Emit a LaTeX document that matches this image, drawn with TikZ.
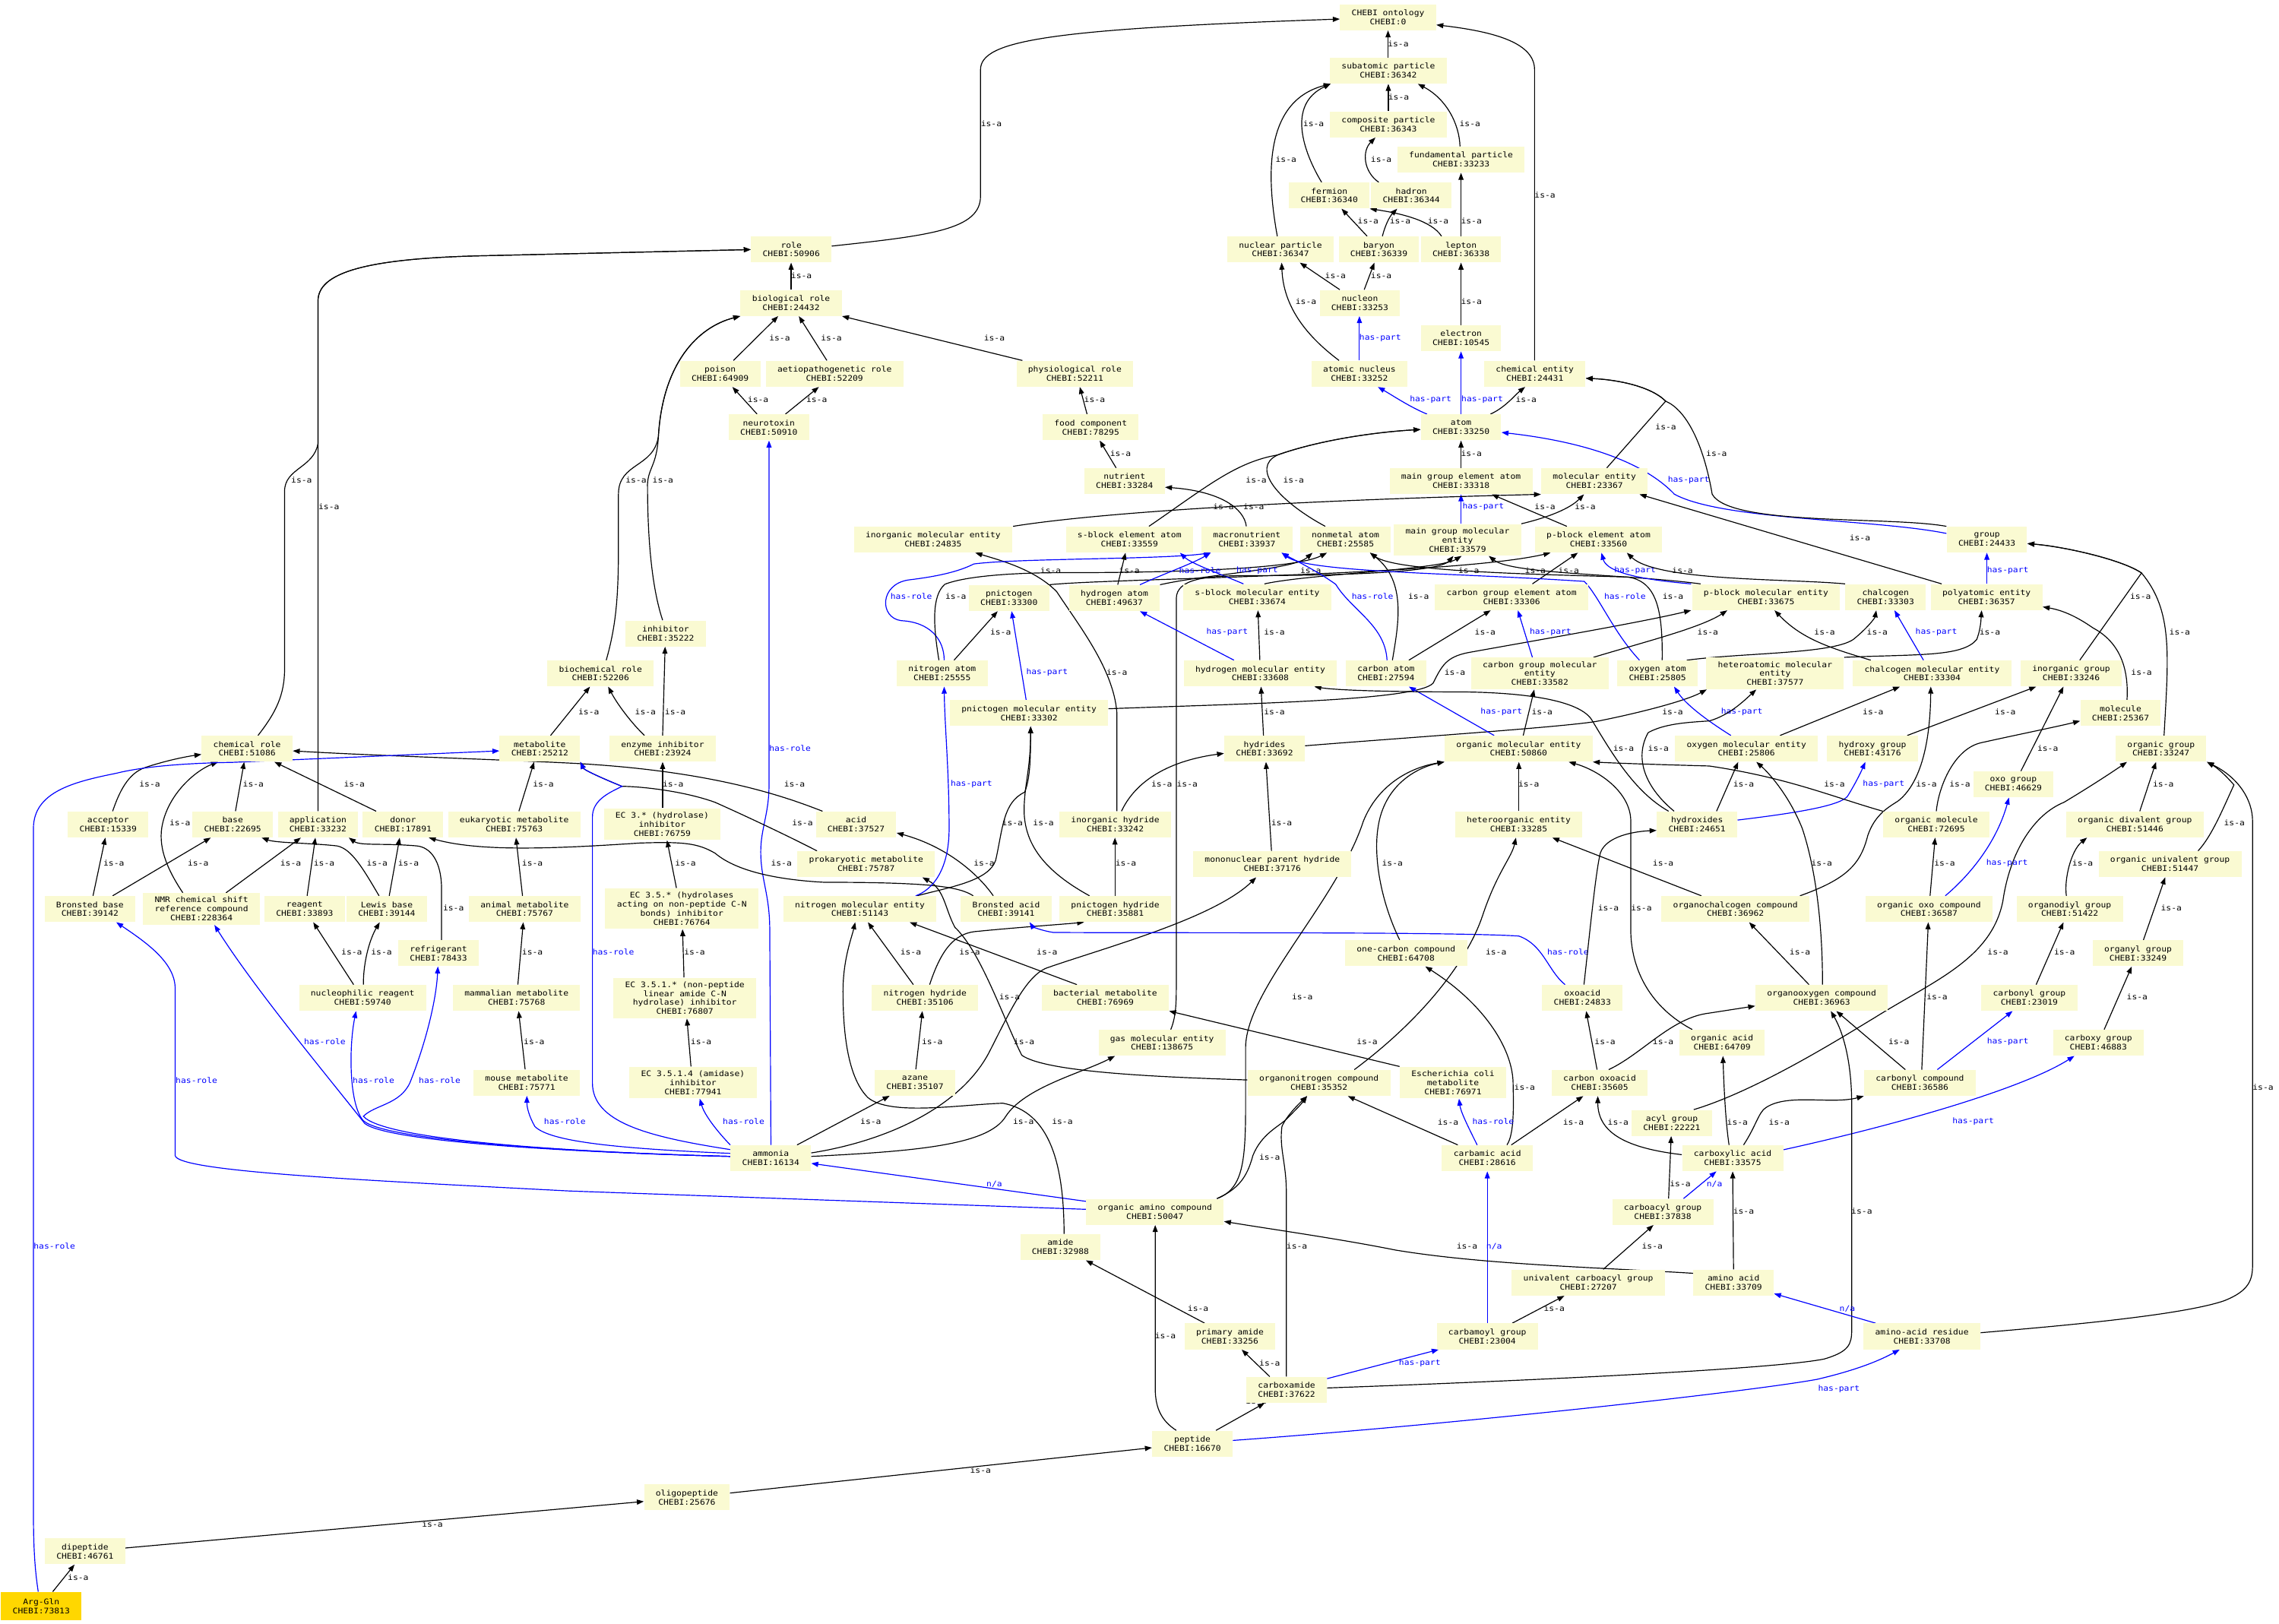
\documentclass[tikz,border=0pt]{standalone}
\usepackage{fontspec}
\newfontfamily\gvf{DejaVu Sans Mono}[FakeStretch=1.12]
\usetikzlibrary{arrows.meta}
\pgfdeclarelayer{bglayer}
\pgfdeclarelayer{edgelayer}
\pgfsetlayers{bglayer,edgelayer,main}
\definecolor{nfill}{RGB}{250,250,210}
\definecolor{gfill}{RGB}{255,215,0}
\tikzset{
  nd/.style={fill=nfill, draw=none, font=\gvf\fontsize{5.3}{6.2}\selectfont, align=center, minimum width=51.3pt, minimum height=17.8pt, inner xsep=8pt, inner ysep=2.6pt},
  gd/.style={nd, fill=gfill, minimum height=19.5pt},
  isa/.style={draw=black, line width=0.62pt, -{Triangle[length=4.8pt,width=3.5pt]}},
  hp/.style={isa, draw=blue},
  lb/.style={font=\gvf\fontsize{5.3}{6.2}\selectfont, inner sep=0pt, text=black},
  lbb/.style={lb, text=blue}
}
\begin{document}
\begin{tikzpicture}[x=1pt,y=-1pt]
\begin{pgfonlayer}{bglayer}
\fill[white] (0,0) rectangle (1568,1117);
\end{pgfonlayer}
\useasboundingbox (0,0) rectangle (1568,1117);
% ---------------- nodes
\node[nd] (ont) at (955,11.8) {CHEBI ontology\\CHEBI:0};
\node[nd] (subat) at (955.2,48.6) {subatomic particle\\CHEBI:36342};
\node[nd] (compp) at (955.2,85.5) {composite particle\\CHEBI:36343};
\node[nd] (fundp) at (1005.2,109.8) {fundamental particle\\CHEBI:33233};
\node[nd] (fermion) at (914.6,134.5) {fermion\\CHEBI:36340};
\node[nd] (hadron) at (971,134.5) {hadron\\CHEBI:36344};
\node[nd] (nucp) at (881,171.6) {nuclear particle\\CHEBI:36347};
\node[nd] (baryon) at (948.7,171.6) {baryon\\CHEBI:36339};
\node[nd] (lepton) at (1005.2,171.6) {lepton\\CHEBI:36338};
\node[nd] (nucleon) at (935.6,208.4) {nucleon\\CHEBI:33253};
\node[nd] (electron) at (1005.2,232.7) {electron\\CHEBI:10545};
\node[nd] (atnuc) at (935.3,257.1) {atomic nucleus\\CHEBI:33252};
\node[nd] (chement) at (1056,257.1) {chemical entity\\CHEBI:24431};
\node[nd] (atom) at (1005.2,294) {atom\\CHEBI:33250};
\node[nd] (role) at (544.4,171.6) {role\\CHEBI:50906};
\node[nd] (biorole) at (544.3,208.4) {biological role\\CHEBI:24432};
\node[nd] (poison) at (495.5,257.1) {poison\\CHEBI:64909};
\node[nd] (aetio) at (574.2,257.1) {aetiopathogenetic role\\CHEBI:52209};
\node[nd] (physio) at (739.5,257.1) {physiological role\\CHEBI:52211};
\node[nd] (neurotox) at (529,294) {neurotoxin\\CHEBI:50910};
\node[nd] (food) at (750.4,294) {food component\\CHEBI:78295};
\node[nd] (nutrient) at (773.7,331) {nutrient\\CHEBI:33284};
\node[nd] (mgea) at (1005.2,331) {main group element atom\\CHEBI:33318};
\node[nd] (molent) at (1097,331) {molecular entity\\CHEBI:23367};
\node[nd] (inorgme) at (642,371.2) {inorganic molecular entity\\CHEBI:24835};
\node[nd] (sblockatom) at (777.1,371.2) {s-block element atom\\CHEBI:33559};
\node[nd] (macro) at (857.9,371.2) {macronutrient\\CHEBI:33937};
\node[nd] (nonmetal) at (925.7,371.2) {nonmetal atom\\CHEBI:25585};
\node[nd] (mgme) at (1002.8,371.4) {main group molecular\\entity\\CHEBI:33579};
\node[nd] (pblockatom) at (1099.8,371.2) {p-block element atom\\CHEBI:33560};
\node[nd] (group) at (1367,371.2) {group\\CHEBI:24433};
\node[nd] (pnictogen) at (694.2,411.4) {pnictogen\\CHEBI:33300};
\node[nd] (hatom) at (766.7,411.4) {hydrogen atom\\CHEBI:49637};
\node[nd] (sblockme) at (865,410.8) {s-block molecular entity\\CHEBI:33674};
\node[nd] (cgea) at (1040,410.8) {carbon group element atom\\CHEBI:33306};
\node[nd] (pblockme) at (1215,410.8) {p-block molecular entity\\CHEBI:33675};
\node[nd] (chalcogen) at (1297.3,410.8) {chalcogen\\CHEBI:33303};
\node[nd] (polyat) at (1366.8,410.8) {polyatomic entity\\CHEBI:36357};
\node[nd] (inhibitor) at (458,435.8) {inhibitor\\CHEBI:35222};
\node[nd] (natom) at (648.2,463.3) {nitrogen atom\\CHEBI:25555};
\node[nd] (hme) at (867.1,463.3) {hydrogen molecular entity\\CHEBI:33608};
\node[nd] (catom) at (953.6,463.3) {carbon atom\\CHEBI:27594};
\node[nd] (cgme) at (1059.4,463.3) {carbon group molecular\\entity\\CHEBI:33582};
\node[nd] (oatom) at (1140.4,463.3) {oxygen atom\\CHEBI:25805};
\node[nd] (heteroat) at (1221.3,463.3) {heteroatomic molecular\\entity\\CHEBI:37577};
\node[nd] (chalcme) at (1329.3,463.3) {chalcogen molecular entity\\CHEBI:33304};
\node[nd] (inorggroup) at (1425,463.3) {inorganic group\\CHEBI:33246};
\node[nd] (biochem) at (413.2,463.3) {biochemical role\\CHEBI:52206};
\node[nd] (pnme) at (708,490.6) {pnictogen molecular entity\\CHEBI:33302};
\node[nd] (molecule) at (1459,490.6) {molecule\\CHEBI:25367};
\node[nd] (chemrole) at (170,515.1) {chemical role\\CHEBI:51086};
\node[nd] (metabolite) at (371.4,515.1) {metabolite\\CHEBI:25212};
\node[nd] (enzinh) at (455.9,515.1) {enzyme inhibitor\\CHEBI:23924};
\node[nd] (hydrides) at (870,515.1) {hydrides\\CHEBI:33692};
\node[nd] (orgme) at (1044.8,515.1) {organic molecular entity\\CHEBI:50860};
\node[nd] (ome) at (1201.6,515.1) {oxygen molecular entity\\CHEBI:25806};
\node[nd] (hydroxy) at (1288.3,515.1) {hydroxy group\\CHEBI:43176};
\node[nd] (orggroup) at (1486.8,515.1) {organic group\\CHEBI:33247};
\node[nd] (oxo) at (1385.2,539.6) {oxo group\\CHEBI:46629};
\node[nd] (acceptor) at (74.4,567.2) {acceptor\\CHEBI:15339};
\node[nd] (base) at (160.1,567.2) {base\\CHEBI:22695};
\node[nd] (application) at (218.8,567.2) {application\\CHEBI:33232};
\node[nd] (donor) at (277.3,567.2) {donor\\CHEBI:17891};
\node[nd] (eukmet) at (353.8,567.2) {eukaryotic metabolite\\CHEBI:75763};
\node[nd] (ec3) at (455.6,567) {EC 3.* (hydrolase)\\inhibitor\\CHEBI:76759};
\node[nd] (acid) at (589,567.2) {acid\\CHEBI:37527};
\node[nd] (inorghyd) at (767.3,567.2) {inorganic hydride\\CHEBI:33242};
\node[nd] (heteroorg) at (1044.9,567.2) {heteroorganic entity\\CHEBI:33285};
\node[nd] (hydroxides) at (1167.6,567.2) {hydroxides\\CHEBI:24651};
\node[nd] (orgmolecule) at (1332.2,567.2) {organic molecule\\CHEBI:72695};
\node[nd] (orgdiv) at (1468.8,567.2) {organic divalent group\\CHEBI:51446};
\node[nd] (prokmet) at (595.9,594.5) {prokaryotic metabolite\\CHEBI:75787};
\node[nd] (mph) at (875.4,594.5) {mononuclear parent hydride\\CHEBI:37176};
\node[nd] (orguni) at (1493,594.5) {organic univalent group\\CHEBI:51447};
\node[nd] (brbase) at (61.9,625.4) {Bronsted base\\CHEBI:39142};
\node[nd] (nmr) at (138.6,625.3) {NMR chemical shift\\reference compound\\CHEBI:228364};
\node[nd] (reagent) at (209.6,625.4) {reagent\\CHEBI:33893};
\node[nd] (lewis) at (266.1,625.4) {Lewis base\\CHEBI:39144};
\node[nd] (animet) at (361,625.4) {animal metabolite\\CHEBI:75767};
\node[nd] (ec35) at (469.1,625.1) {EC 3.5.* (hydrolases\\acting on non-peptide C-N\\bonds) inhibitor\\CHEBI:76764};
\node[nd] (nme) at (591.6,625.4) {nitrogen molecular entity\\CHEBI:51143};
\node[nd] (bracid) at (692.2,625.4) {Bronsted acid\\CHEBI:39141};
\node[nd] (pnhyd) at (767.3,625.4) {pnictogen hydride\\CHEBI:35881};
\node[nd] (orgchalc) at (1194,625.4) {organochalcogen compound\\CHEBI:36962};
\node[nd] (orgoxo) at (1327.2,625.4) {organic oxo compound\\CHEBI:36587};
\node[nd] (orgdiyl) at (1424,625.4) {organodiyl group\\CHEBI:51422};
\node[nd] (refrig) at (301.7,655.8) {refrigerant\\CHEBI:78433};
\node[nd] (onec) at (967.4,655.8) {one-carbon compound\\CHEBI:64708};
\node[nd] (organyl) at (1471,655.8) {organyl group\\CHEBI:33249};
\node[nd] (nucreag) at (249.5,686.5) {nucleophilic reagent\\CHEBI:59740};
\node[nd] (mammet) at (355.4,686.5) {mammalian metabolite\\CHEBI:75768};
\node[nd] (ec351) at (471.2,686.6) {EC 3.5.1.* (non-peptide\\linear amide C-N\\hydrolase) inhibitor\\CHEBI:76807};
\node[nd] (nhyd) at (636.4,686.5) {nitrogen hydride\\CHEBI:35106};
\node[nd] (bactmet) at (760.4,686.5) {bacterial metabolite\\CHEBI:76969};
\node[nd] (oxoacid) at (1088.7,686.5) {oxoacid\\CHEBI:24833};
\node[nd] (orgoxy) at (1253.3,686.5) {organooxygen compound\\CHEBI:36963};
\node[nd] (carbonylg) at (1396.2,686.5) {carbonyl group\\CHEBI:23019};
\node[nd] (gasme) at (799.5,717.4) {gas molecular entity\\CHEBI:138675};
\node[nd] (orgacid) at (1184.8,717.4) {organic acid\\CHEBI:64709};
\node[nd] (carboxyg) at (1443.7,717.4) {carboxy group\\CHEBI:46883};
\node[nd] (mousemet) at (362.4,744.8) {mouse metabolite\\CHEBI:75771};
\node[nd] (ec3514) at (476.8,744.8) {EC 3.5.1.4 (amidase)\\inhibitor\\CHEBI:77941};
\node[nd] (azane) at (629.5,744.8) {azane\\CHEBI:35107};
\node[nd] (orgn) at (907.5,745) {organonitrogen compound\\CHEBI:35352};
\node[nd] (ecoli) at (999.7,744.8) {Escherichia coli\\metabolite\\CHEBI:76971};
\node[nd] (coxoacid) at (1100.6,745) {carbon oxoacid\\CHEBI:35605};
\node[nd] (carbonylc) at (1320.9,745) {carbonyl compound\\CHEBI:36586};
\node[nd] (acyl) at (1150.2,772.5) {acyl group\\CHEBI:22221};
\node[nd] (ammonia) at (530.3,796.8) {ammonia\\CHEBI:16134};
\node[nd] (carbamic) at (1023.3,796.8) {carbamic acid\\CHEBI:28616};
\node[nd] (carboxylic) at (1192.1,796.8) {carboxylic acid\\CHEBI:33575};
\node[nd] (orgamino) at (794.6,833.7) {organic amino compound\\CHEBI:50047};
\node[nd] (carboacyl) at (1144,833.7) {carboacyl group\\CHEBI:37838};
\node[nd] (amide) at (729.6,858) {amide\\CHEBI:32988};
\node[nd] (univcarb) at (1092.8,882.4) {univalent carboacyl group\\CHEBI:27207};
\node[nd] (aminoacid) at (1192.7,882.4) {amino acid\\CHEBI:33709};
\node[nd] (primamide) at (846.2,919.4) {primary amide\\CHEBI:33256};
\node[nd] (carbamoyl) at (1023.3,919.4) {carbamoyl group\\CHEBI:23004};
\node[nd] (aares) at (1322.3,919.4) {amino-acid residue\\CHEBI:33708};
\node[nd] (carboxamide) at (885.2,956.2) {carboxamide\\CHEBI:37622};
\node[nd] (peptide) at (820.4,993.2) {peptide\\CHEBI:16670};
\node[nd] (oligo) at (472.6,1030.2) {oligopeptide\\CHEBI:25676};
\node[nd] (dipeptide) at (58.5,1067.3) {dipeptide\\CHEBI:46761};
\node[gd] (argGln) at (28.4,1105) {Arg-Gln\\CHEBI:73813};
% ---------------- edges
\begin{pgfonlayer}{edgelayer}
% particles
\draw[isa] (subat.north -| 955,0) -- (ont.south -| 955,0) node[lb] at (962,30) {is-a};
\draw[isa] (chement.north -| 1055.8,0) -- (1055.8,48) .. controls (1055.8,30) and (1030,22) .. (ont.east |- 0,17.1) node[lb] at (1063,134) {is-a};
\draw[isa] (role.east |- 0,169.3) .. controls (640,162) and (674.6,158) .. (674.6,135) -- (674.6,48) .. controls (674.6,28) and (720,20) .. (ont.west |- 0,13.1) node[lb] at (682,85) {is-a};
\draw[isa] (compp.north -| 955.2,0) -- (subat.south -| 955.2,0) node[lb] at (962.3,66.6) {is-a};
\draw[isa] (fundp.north -| 1004.5,0) .. controls (1004,85) and (995,68) .. (subat.south -| 975.5,0) node[lb] at (1011.3,85.1) {is-a};
\draw[isa] (fermion.north -| 909.3,0) .. controls (897,105) and (885,72) .. (subat.south -| 915.5,0) node[lb] at (903.8,85.1) {is-a};
\draw[isa] (nucp.north -| 878.8,0) .. controls (872,125) and (868,70) .. (subat.south -| 915.5,0) node[lb] at (884.8,109.4) {is-a};
\draw[isa] (hadron.north -| 948.6,0) .. controls (938,118) and (937,104) .. (compp.south -| 946.3,0) node[lb] at (950.3,109.4) {is-a};
\draw[isa] (lepton.north -| 1005.2,0) -- (fundp.south -| 1005.2,0) node[lb] at (1012.3,152.2) {is-a};
\draw[isa] (baryon.north -| 940.6,0) -- (fermion.south -| 923,0) node[lb] at (941.3,152.2) {is-a};
\draw[isa] (baryon.north -| 951.1,0) .. controls (953,155) and (956,149) .. (hadron.south -| 961.3,0) node[lb] at (963.3,152.2) {is-a};
\draw[isa] (lepton.north -| 991.8,0) .. controls (985,152) and (965,147) .. (fermion.south east) node[lb] at (989.5,152.2) {is-a};
\draw[isa] (nucleon.north -| 921.8,0) -- (nucp.south -| 894.3,0) node[lb] at (918.8,189.5) {is-a};
\draw[isa] (nucleon.north -| 938.6,0) -- (baryon.south -| 945.6,0) node[lb] at (950.3,189.5) {is-a};
\draw[isa] (atnuc.north -| 921.3,0) .. controls (900,232) and (883,212) .. (nucp.south -| 881.8,0) node[lb] at (898.5,207.6) {is-a};
\draw[hp] (atnuc.north -| 935.3,0) -- (nucleon.south -| 935.3,0) node[lbb] at (949.6,232.3) {has-part};
\draw[isa] (electron.north -| 1005.2,0) -- (lepton.south -| 1005.2,0) node[lb] at (1012.3,207.6) {is-a};
\draw[hp] (atom.north -| 981.8,0) .. controls (970,280) and (958,272) .. (atnuc.south -| 948,0) node[lbb] at (984.3,275.1) {has-part};
\draw[hp] (atom.north -| 1005.2,0) -- (electron.south -| 1005.2,0) node[lbb] at (1019.8,275.1) {has-part};
\draw[isa] (atom.north -| 1025.5,0) .. controls (1036,280) and (1042,272) .. (chement.south -| 1049.3,0) node[lb] at (1050,275.1) {is-a};
\draw[isa] (mgea.north -| 1005.2,0) -- (atom.south -| 1005.2,0) node[lb] at (1012.3,312.2) {is-a};
\draw[hp] (group.west |- 0,367) .. controls (1290,357) and (1185,358) .. (1152,340) .. controls (1135,322) and (1100,305) .. (atom.east |- 0,297.5) node[lbb] at (1161.8,330.5) {has-part};
\draw[isa] (molent.north -| 1105.5,0) -- (1146,276) .. controls (1135,265) and (1110,261) .. (chement.east |- 0,260.3) node[lb] at (1146.1,293.6) {is-a};
\draw[isa] (group.north west) .. controls (1300,355) and (1190,362) .. (1178,340) .. controls (1172,305) and (1160,282) .. (1146,276) .. controls (1135,265) and (1110,261) .. (chement.east |- 0,260.3) node[lb] at (1181,312.2) {is-a};
\draw[isa] (mgme.north east) .. controls (1065,356) and (1080,350) .. (molent.south -| 1089.8,0) node[lb] at (1090.6,348.8) {is-a};
\draw[isa] (pblockatom.north -| 1078,0) -- (mgea.south -| 1026.3,0) node[lb] at (1063,348.8) {is-a};
\draw[hp] (mgme.north -| 1005.2,0) -- (mgea.south -| 1005.2,0) node[lbb] at (1020.5,348.8) {has-part};
\draw[isa] (inorgme.north -| 697,0) .. controls (760,352) and (900,344) .. (molent.south west) node[lb] at (841.8,348.8) {is-a};
\draw[isa] (macro.north -| 857.5,0) .. controls (856,350) and (840,338) .. (nutrient.east |- 0,335.2) node[lb] at (862.6,348.8) {is-a};
\draw[isa] (sblockatom.north -| 790.5,0) .. controls (830,335) and (850,318) .. (879,313) .. controls (910,302) and (950,297) .. (atom.west |- 0,295.5) node[lb] at (864.3,330.5) {is-a};
\draw[isa] (nonmetal.north -| 911.8,0) .. controls (880,345) and (860,322) .. (879,313) .. controls (910,302) and (950,297) .. (atom.west |- 0,295.5) node[lb] at (890,330.5) {is-a};
% roles
\draw[isa] (biorole.north -| 544.3,0) -- (role.south -| 544.3,0) node[lb] at (551.4,189.5) {is-a};
\draw[isa] (poison.north -| 504.6,0) -- (biorole.south -| 535.4,0) node[lb] at (536.4,232.3) {is-a};
\draw[isa] (aetio.north -| 568.9,0) -- (biorole.south -| 549.6,0) node[lb] at (572,232.3) {is-a};
\draw[isa] (physio.north -| 703.4,0) -- (biorole.south east) node[lb] at (684.1,232.3) {is-a};
\draw[isa] (neurotox.north -| 520.9,0) -- (poison.south -| 503.9,0) node[lb] at (521.6,275.1) {is-a};
\draw[isa] (neurotox.north -| 540.4,0) -- (aetio.south -| 563.4,0) node[lb] at (561.9,275.1) {is-a};
\draw[isa] (food.north -| 747.9,0) -- (physio.south -| 742.9,0) node[lb] at (753.1,275.1) {is-a};
\draw[isa] (nutrient.north -| 767.9,0) -- (food.south -| 756.6,0) node[lb] at (770.9,312.2) {is-a};
\draw[hp] (ammonia.north -| 530.4,0) -- (529.6,640) .. controls (529.6,615) and (523.4,605) .. (523.4,586) .. controls (523.4,570) and (529.1,560) .. (529.1,540) -- (neurotox.south -| 529.1,0) node[lbb] at (543.6,514.7) {has-role};
\draw[isa] (inhibitor.north -| 455.9,0) .. controls (447,400) and (445.5,360) .. (445.5,333) .. controls (446,322) and (452,320) .. (453,300) .. controls (456,250) and (480,225) .. (biorole.south west) node[lb] at (456.1,330.5) {is-a};
\draw[isa] (biochem.north -| 417.1,0) .. controls (424,430) and (425.5,410) .. (425.5,375) -- (425.5,340) .. controls (425.5,318) and (450,322) .. (453,300) .. controls (456,250) and (480,225) .. (biorole.south west) node[lb] at (437.6,330.5) {is-a};
\draw[isa] (chemrole.north -| 177.5,0) .. controls (190,490) and (195.8,478) .. (195.8,460) -- (195.8,338) .. controls (195.8,322) and (216,322) .. (218.8,305) -- (218.8,207) .. controls (218.8,188) and (250,178) .. (330,176) -- (role.west |- 0,171.7) node[lb] at (207.5,330.5) {is-a};
\draw[isa] (application.north -| 218.8,0) -- (218.8,207) .. controls (218.8,188) and (250,178) .. (330,176) -- (role.west |- 0,171.7) node[lb] at (226.3,348.8) {is-a};
\draw[isa] (metabolite.north -| 378.8,0) -- (biochem.south -| 405.9,0) node[lb] at (405.1,489.8) {is-a};
\draw[isa] (enzinh.north -| 443.4,0) .. controls (435,498) and (425,485) .. (biochem.south -| 418.4,0) node[lb] at (444.1,489.8) {is-a};
\draw[isa] (enzinh.north -| 455.9,0) -- (inhibitor.south -| 457.6,0) node[lb] at (464.6,489.8) {is-a};
\draw[isa] (ec3.north -| 455.9,0) -- (enzinh.south -| 455.9,0) node[lb] at (463.1,539.2) {is-a};
\draw[isa] (ec35.north -| 465.4,0) -- (ec3.south -| 458.9,0) node[lb] at (471.6,593.9) {is-a};
\draw[isa] (ec351.north -| 470.6,0) -- (ec35.south -| 469.6,0) node[lb] at (477.9,655) {is-a};
\draw[isa] (ec3514.north -| 475.4,0) -- (ec351.south -| 472.6,0) node[lb] at (482.4,716.8) {is-a};
\draw[isa] (acceptor.north -| 77.5,0) .. controls (82,545) and (88,532) .. (100,528) .. controls (112,524) and (125,521) .. (chemrole.west |- 0,519) node[lb] at (103,539.2) {is-a};
\draw[isa] (base.north -| 162,0) -- (chemrole.south -| 168,0) node[lb] at (174.3,539.2) {is-a};
\draw[isa] (donor.north -| 258.8,0) -- (chemrole.south -| 188.8,0) node[lb] at (243.8,539.2) {is-a};
\draw[isa] (nmr.north -| 125.8,0) .. controls (115,598) and (108,582) .. (112,566) .. controls (117,545) and (135,530) .. (chemrole.south -| 150,0) node[lb] at (123.8,566.1) {is-a};
\draw[isa] (acid.north -| 565.9,0) .. controls (540,548) and (490,530) .. (392,525) .. controls (330,522) and (260,520) .. (chemrole.east |- 0,516.6) node[lb] at (546.6,539.2) {is-a};
\draw[hp] (argGln.north -| 26.3,0) .. controls (24,1080) and (23,1065) .. (23,1040) -- (23,570) .. controls (23,545) and (50,538) .. (80,532) .. controls (100,527) and (130,525) .. (160,524.5) -- (metabolite.west |- 0,516.6) node[lbb] at (37.5,857.4) {has-role};
\draw[isa] (eukmet.north -| 357,0) -- (metabolite.south -| 367.5,0) node[lb] at (373.8,539.2) {is-a};
\draw[isa] (prokmet.north -| 562.1,0) .. controls (540,574) and (510,560) .. (492,552) .. controls (470,544) and (440,541) .. (428,541) .. controls (418,537) and (402,530) .. (metabolite.south east) node[lb] at (552.1,566.1) {is-a};
\draw[hp] (ammonia.west |- 0,790.9) .. controls (445,782) and (407.6,772) .. (407.6,745) -- (407.6,562) .. controls (407.6,550) and (420,545) .. (428,541) .. controls (418,537) and (402,530) .. (metabolite.south east) node[lbb] at (422,655) {has-role};
\draw[isa] (brbase.north -| 64,0) -- (acceptor.south -| 72.5,0) node[lb] at (78.3,593.9) {is-a};
\draw[isa] (brbase.north -| 77.5,0) -- (base.south -| 145,0) node[lb] at (136.3,593.9) {is-a};
\draw[isa] (nmr.north -| 155.5,0) -- (application.south -| 207,0) node[lb] at (200,593.9) {is-a};
\draw[isa] (reagent.north -| 211.3,0) -- (application.south -| 217,0) node[lb] at (223,593.9) {is-a};
\draw[isa] (lewis.north -| 260.8,0) .. controls (250,598) and (242,584) .. (232,582) .. controls (215,580) and (190,580) .. (base.south -| 180,0) node[lb] at (259.5,593.9) {is-a};
\draw[isa] (lewis.north -| 267.8,0) -- (donor.south -| 275,0) node[lb] at (281,593.9) {is-a};
\draw[isa] (refrig.north -| 303.8,0) -- (303.8,612) .. controls (303.8,592) and (296,583) .. (287,582) .. controls (265,580) and (248,582) .. (application.south -| 240,0) node[lb] at (312,624.8) {is-a};
\draw[isa] (animet.north -| 359.5,0) -- (eukmet.south -| 355,0) node[lb] at (366.3,593.9) {is-a};
\draw[isa] (mammet.north -| 356.3,0) -- (animet.south -| 360,0) node[lb] at (366.3,655) {is-a};
\draw[isa] (mousemet.north -| 361.3,0) -- (mammet.south -| 356.8,0) node[lb] at (367.5,716.8) {is-a};
\draw[isa] (nucreag.north -| 243.3,0) -- (reagent.south -| 215.5,0) node[lb] at (242,655) {is-a};
\draw[isa] (nucreag.north -| 250,0) .. controls (250,660) and (255,645) .. (lewis.south -| 261.3,0) node[lb] at (262.5,655) {is-a};
% ammonia roles
\draw[hp] (ammonia.west |- 0,795.6) .. controls (400,793) and (268,786) .. (251,773) .. controls (225,740) and (175,680) .. (nmr.south -| 147.5,0) node[lbb] at (223.5,716.8) {has-role};
\draw[hp] (ammonia.west |- 0,795.6) .. controls (400,793) and (265,785) .. (250,771) .. controls (240,760) and (240,720) .. (nucreag.south -| 245,0) node[lbb] at (257,743.2) {has-role};
\draw[hp] (ammonia.west |- 0,795.6) .. controls (400,793) and (265,785) .. (250,768) .. controls (258,760) and (275,760) .. (282,745) .. controls (292,720) and (300,690) .. (refrig.south -| 301.3,0) node[lbb] at (302.5,743.2) {has-role};
\draw[hp] (ammonia.west |- 0,793.5) .. controls (420,790) and (378,785) .. (368,775) .. controls (364,768) and (362.5,762) .. (mousemet.south -| 362.5,0) node[lbb] at (388.6,771.8) {has-role};
\draw[hp] (ammonia.north west) .. controls (495,780) and (485,768) .. (ec3514.south -| 481.4,0) node[lbb] at (511.6,771.8) {has-role};
\draw[hp] (orgamino.west |- 0,832) -- (392,819.4) .. controls (250,812) and (122,806) .. (120.5,795) -- (120.5,680) .. controls (120.5,662) and (100,648) .. (brbase.south -| 80,0) node[lbb] at (135.2,743.2) {has-role};
\draw[hp] (orgamino.west |- 0,826.5) -- (ammonia.east |- 0,800.4) node[lbb] at (684.1,814.6) {n/a};
% nitrogen region
\draw[isa] (ammonia.north -| 548.4,0) -- (azane.south -| 612.1,0) node[lb] at (599.1,771.8) {is-a};
\draw[isa] (ammonia.east |- 0,793.2) .. controls (610,785) and (660,762) .. (680,725) .. controls (693,700) and (705,672) .. (720,666) .. controls (760,652) and (835,632) .. (mph.south -| 864.3,0) node[lb] at (694.6,686) {is-a};
\draw[isa] (ammonia.east |- 0,795.6) .. controls (630,792) and (680,788) .. (692,768) .. controls (705,748) and (745,738) .. (gasme.south -| 767.1,0) node[lb] at (704.1,771.8) {is-a};
\draw[isa] (amide.north -| 732.1,0) .. controls (732,800) and (722,765) .. (690,759) .. controls (660,760) and (612,768) .. (597,755) .. controls (582,740) and (580,705) .. (580,682) .. controls (580,660) and (586,645) .. (nme.south -| 588.4,0) node[lb] at (730.9,771.8) {is-a};
\draw[isa] (nhyd.north -| 628.4,0) -- (nme.south -| 597.1,0) node[lb] at (626.6,655) {is-a};
\draw[isa] (azane.north -| 630.1,0) -- (nhyd.south -| 634.6,0) node[lb] at (641.4,716.8) {is-a};
\draw[isa] (nhyd.north -| 639.6,0) .. controls (648,652) and (657,643) .. (670,641) .. controls (700,638) and (730,636) .. (pnhyd.south -| 745.9,0) node[lb] at (667.1,655) {is-a};
\draw[isa] (bactmet.north -| 740.9,0) -- (nme.south -| 625.9,0) node[lb] at (720.4,655) {is-a};
\draw[isa] (orgn.west |- 0,743) .. controls (800,741) and (720,738) .. (703,726) .. controls (690,700) and (675,655) .. (657,638) .. controls (650,625) and (650,612) .. (prokmet.south -| 634.6,0) node[lb] at (704.6,716.8) {is-a};
\draw[isa] (bracid.north -| 683.4,0) .. controls (672,600) and (650,582) .. (acid.east |- 0,573) node[lb] at (677.1,593.9) {is-a};
\draw[isa] (bracid.north -| 669.6,0) .. controls (660,610) and (640,607) .. (567,607) .. controls (530,605) and (505,598) .. (492,587) .. controls (480,580) and (470,579) .. (440,580) .. controls (380,584) and (330,586) .. (donor.south -| 295,0) node[lb] at (537.6,593.9) {is-a};
\draw[hp] (oxoacid.north -| 1076.8,0) .. controls (1065,668) and (1062,650) .. (1045,644) .. controls (1000,641) and (800,642) .. (724.6,641.5) .. controls (715,640) and (710,637) .. (bracid.south -| 708.4,0) node[lbb] at (1078.8,655) {has-role};
\draw[isa] (nme.north -| 630.9,0) .. controls (655,610) and (680,606) .. (685,592) .. controls (690,570) and (690,552) .. (705,545) .. controls (709,535) and (709,520) .. (pnme.south -| 709.1,0) node[lb] at (696.6,566.1) {is-a};
\draw[isa] (pnhyd.north -| 749.6,0) .. controls (720,600) and (705,582) .. (704.6,558) .. controls (704.6,540) and (709,530) .. (pnme.south -| 709.1,0) node[lb] at (717.9,566.1) {is-a};
\draw[isa] (pnhyd.north -| 767.1,0) -- (inorghyd.south -| 767.1,0) node[lb] at (774.6,593.9) {is-a};
\draw[hp] (nme.north -| 630,0) .. controls (642,612) and (653,598) .. (653,570) .. controls (653,530) and (650,500) .. (natom.south -| 649.6,0) node[lbb] at (668.4,539.2) {has-part};
\draw[hp] (pnme.north -| 706,0) -- (pnictogen.south -| 696,0) node[lbb] at (720.4,462.7) {has-part};
\draw[isa] (pnme.east |- 0,487.6) .. controls (860,484) and (975,482) .. (986,470) .. controls (992,458) and (995,452) .. (1010,449) .. controls (1060,440) and (1130,428) .. (pblockme.south -| 1163.5,0) node[lb] at (1001,462.7) {is-a};
\draw[isa] (inorghyd.north -| 771.6,0) .. controls (780,540) and (800,524) .. (hydrides.west |- 0,518.3) node[lb] at (799.3,539.2) {is-a};
\draw[isa] (inorghyd.north -| 768.4,0) -- (768.4,490) .. controls (766,460) and (742,430) .. (727,407) .. controls (712,392) and (690,386) .. (inorgme.south -| 671,0) node[lb] at (768.4,462.7) {is-a};
% upper element region
\draw[isa] (natom.north -| 656.4,0) -- (pnictogen.south -| 686.4,0) node[lb] at (688.4,435) {is-a};
\draw[hp] (natom.north -| 649.6,0) .. controls (649.6,440) and (640,428) .. (620,427) .. controls (605,425) and (605,402) .. (625,399) .. controls (650,396) and (662,392) .. (670,388) .. controls (700,384) and (800,385) .. (macro.south -| 833,0) node[lbb] at (627,410.4) {has-role};
\draw[isa] (natom.north -| 646,0) .. controls (642,430) and (641,410) .. (650,402) .. controls (665,396) and (700,394) .. (730,394) .. controls (800,394) and (890,392) .. (nonmetal.south -| 913,0) node[lb] at (657.6,410.4) {is-a};
\draw[isa] (pnictogen.north east) .. controls (760,398) and (1000,396) .. (pblockatom.south -| 1066.8,0) node[lb] at (722.9,392.3) {is-a};
\draw[isa] (hatom.north -| 769,0) -- (sblockatom.south -| 774.4,0) node[lb] at (777,392.3) {is-a};
\draw[isa] (hatom.north east) .. controls (830,395) and (890,392) .. (nonmetal.south -| 903,0) node[lb] at (901.8,392.3) {is-a};
\draw[hp] (hatom.north -| 784.3,0) .. controls (800,395) and (820,388) .. (macro.south -| 833,0) node[lbb] at (825.6,392.3) {has-role};
\draw[hp] (sblockme.north -| 855.5,0) .. controls (840,395) and (820,388) .. (sblockatom.south -| 811.8,0) node[lbb] at (865,392.3) {has-part};
\draw[isa] (sblockme.north -| 870,0) .. controls (900,395) and (990,392) .. (mgme.south -| 1005.6,0) node[lb] at (1010.5,392.3) {is-a};
\draw[isa] (pblockme.north -| 1170,0) .. controls (1120,395) and (1040,395) .. (mgme.south -| 1024.3,0) node[lb] at (1056.3,392.3) {is-a};
\draw[isa] (gasme.north -| 805.5,0) .. controls (809,700) and (809.3,690) .. (809.3,680) -- (809.3,412) .. controls (809.3,398) and (830,396) .. (860,396) .. controls (920,396) and (990,394) .. (mgme.south -| 1000,0) node[lb] at (816.8,539.2) {is-a};
\draw[isa] (cgea.north -| 1054.3,0) -- (pblockatom.south -| 1085.6,0) node[lb] at (1079.3,392.3) {is-a};
\draw[hp] (pblockme.north -| 1163.5,0) .. controls (1120,398) and (1105,392) .. (pblockatom.south -| 1101.8,0) node[lbb] at (1125,392.3) {has-part};
\draw[isa] (chalcogen.north west) .. controls (1230,398) and (1140,400) .. (pblockatom.south -| 1119.3,0) node[lb] at (1157.6,392.3) {is-a};
\draw[isa] (catom.north -| 958,0) .. controls (962,430) and (968,400) .. (nonmetal.south -| 942.6,0) node[lb] at (976,410.4) {is-a};
\draw[isa] (catom.north -| 969.3,0) -- (cgea.south -| 1025.6,0) node[lb] at (1021.8,435) {is-a};
\draw[hp] (catom.north -| 954.3,0) .. controls (953,430) and (930,420) .. (919,402) .. controls (905,392) and (890,385) .. (macro.south -| 881.8,0) node[lbb] at (944.3,410.4) {has-role};
\draw[hp] (oatom.north -| 1128,0) .. controls (1110,435) and (1100,410) .. (1090,400) .. controls (1000,394) and (900,394) .. (macro.south -| 881.8,0) node[lbb] at (1118,410.4) {has-role};
\draw[isa] (oatom.north -| 1143.6,0) .. controls (1144,420) and (1140,400) .. (1120,397) .. controls (1050,395) and (960,393) .. (nonmetal.south -| 942.6,0) node[lb] at (1151,410.4) {is-a};
\draw[isa] (oatom.north -| 1160.5,0) .. controls (1200,449) and (1260,450) .. (1275,440) .. controls (1285,432) and (1290,425) .. (chalcogen.south -| 1290.9,0) node[lb] at (1291.6,435) {is-a};
\draw[isa] (hme.north -| 866.8,0) -- (sblockme.south -| 865.5,0) node[lb] at (876.8,435) {is-a};
\draw[hp] (hme.north -| 849,0) -- (hatom.south -| 784.3,0) node[lbb] at (844.3,435) {has-part};
\draw[isa] (hydrides.north -| 869.3,0) -- (hme.south -| 867.6,0) node[lb] at (876.8,489.8) {is-a};
\draw[isa] (hydrides.east |- 0,513.1) .. controls (960,508) and (1080,500) .. (1100,496) .. controls (1130,490) and (1160,482) .. (heteroat.south -| 1174.3,0) node[lb] at (1150.8,489.8) {is-a};
\draw[isa] (mph.north -| 874.8,0) -- (hydrides.south -| 871,0) node[lb] at (881.8,566.1) {is-a};
\draw[hp] (orgme.north -| 1028,0) -- (catom.south -| 969.3,0) node[lbb] at (1033,489.8) {has-part};
\draw[isa] (orgme.north -| 1048,0) -- (cgme.south -| 1055.6,0) node[lb] at (1061,489.8) {is-a};
\draw[hp] (cgme.north -| 1054.3,0) -- (cgea.south -| 1044.3,0) node[lbb] at (1066.8,435) {has-part};
\draw[isa] (cgme.north -| 1096.3,0) .. controls (1130,442) and (1170,432) .. (pblockme.south -| 1188.4,0) node[lb] at (1175,435) {is-a};
\draw[hp] (ome.north -| 1190.9,0) .. controls (1175,496) and (1160,485) .. (oatom.south -| 1151.8,0) node[lbb] at (1198.4,489.8) {has-part};
\draw[isa] (ome.north -| 1224.7,0) -- (chalcme.south -| 1307.2,0) node[lb] at (1288.7,489.8) {is-a};
\draw[isa] (hydroxides.north -| 1151.8,0) .. controls (1130,540) and (1125,520) .. (1134,504) .. controls (1145,498) and (1160,497) .. (1176,496) .. controls (1190,492) and (1200,482) .. (heteroat.south -| 1208.4,0) node[lb] at (1141,514.7) {is-a};
\draw[isa] (hydroxides.north -| 1148,0) .. controls (1125,545) and (1110,520) .. (1095,495) .. controls (1085,480) and (1040,476) .. (1000,476) .. controls (960,476) and (920,475) .. (hme.south -| 904.3,0) node[lb] at (1117,514.7) {is-a};
\draw[isa] (hydroxides.north -| 1181,0) -- (ome.south -| 1195.9,0) node[lb] at (1199.6,539.2) {is-a};
\draw[hp] (hydroxides.east |- 0,564.2) .. controls (1230,560) and (1265,555) .. (1271,548) .. controls (1276,540) and (1280,532) .. (hydroxy.south -| 1283.4,0) node[lbb] at (1296,539.2) {has-part};
% organic region
\draw[isa] (heteroorg.north -| 1045,0) -- (orgme.south -| 1045,0) node[lb] at (1051.8,539.2) {is-a};
\draw[isa] (onec.north -| 963,0) .. controls (950,620) and (945,590) .. (948,570) .. controls (952,540) and (975,528) .. (orgme.south west) node[lb] at (958,594) {is-a};
\draw[isa] (orgacid.north -| 1164.3,0) .. controls (1130,690) and (1122,660) .. (1122,640) -- (1122,565) .. controls (1122,545) and (1100,530) .. (orgme.south -| 1079.3,0) node[lb] at (1129.3,624.8) {is-a};
\draw[isa] (orgmolecule.north -| 1295.4,0) .. controls (1260,548) and (1230,535) .. (1176,527) .. controls (1140,526) and (1110,525) .. (orgme.south east) node[lb] at (1262.1,539.2) {is-a};
\draw[isa] (orgamino.north -| 837.3,0) .. controls (855,818) and (857,800) .. (857,760) -- (857,720) .. controls (858,680) and (920,620) .. (938,565) .. controls (948,540) and (970,528) .. (orgme.south west) node[lb] at (896,686) {is-a};
\draw[isa] (orgmolecule.north -| 1332.2,0) .. controls (1334,540) and (1345,515) .. (1363,511) .. controls (1390,505) and (1415,500) .. (molecule.west |- 0,496) node[lb] at (1348.4,539.2) {is-a};
\draw[isa] (molecule.north -| 1463.4,0) .. controls (1465,455) and (1455,440) .. (1440,432) .. controls (1430,425) and (1420,420) .. (polyat.east |- 0,417.5) node[lb] at (1473.4,462.7) {is-a};
\draw[isa] (polyat.north -| 1335.9,0) -- (molent.south -| 1128,0) node[lb] at (1279.6,370.2) {is-a};
\draw[hp] (polyat.north -| 1367,0) -- (group.south -| 1367,0) node[lbb] at (1381.4,392.3) {has-part};
\draw[isa] (heteroat.north east) .. controls (1320,450) and (1350,452) .. (1360,440) .. controls (1363,432) and (1363,425) .. (polyat.south -| 1363.4,0) node[lb] at (1369,435) {is-a};
\draw[isa] (chalcme.north -| 1287.1,0) .. controls (1260,446) and (1240,440) .. (pblockme.south -| 1220.9,0) node[lb] at (1255.4,435) {is-a};
\draw[hp] (chalcme.north -| 1323.4,0) -- (chalcogen.south -| 1303.4,0) node[lbb] at (1332.2,435) {has-part};
\draw[isa] (inorggroup.north -| 1430.9,0) -- (1473.4,394.2) .. controls (1460,385) and (1420,376) .. (group.east |- 0,374) node[lb] at (1472.7,410.4) {is-a};
\draw[isa] (orggroup.north -| 1488.9,0) .. controls (1492,450) and (1495,420) .. (1473.4,394.2) .. controls (1460,385) and (1420,376) .. (group.east |- 0,374) node[lb] at (1499.7,435) {is-a};
\draw[isa] (hydroxy.north -| 1312.2,0) -- (inorggroup.south -| 1400.9,0) node[lb] at (1379.7,489.8) {is-a};
\draw[isa] (oxo.north -| 1390.4,0) -- (inorggroup.south -| 1419.7,0) node[lb] at (1408.9,514.7) {is-a};
\draw[isa] (orgdiv.north -| 1472.2,0) -- (orggroup.south -| 1483.4,0) node[lb] at (1488.4,539.2) {is-a};
\draw[isa] (orguni.north -| 1512.3,0) .. controls (1522,575) and (1530,555) .. (1537,540) .. controls (1530,532) and (1525,528) .. (orggroup.south -| 1518.4,0) node[lb] at (1537.3,566.1) {is-a};
\draw[isa] (aares.east |- 0,916.9) .. controls (1420,912) and (1500,905) .. (1530,895) .. controls (1548,888) and (1549.8,880) .. (1549.8,870) -- (1549.8,565) .. controls (1549.8,550) and (1540,535) .. (orggroup.south -| 1518.4,0) node[lb] at (1557,748) {is-a};
\draw[isa] (acyl.north -| 1165.3,0) .. controls (1210,750) and (1270,712) .. (1290,700) .. controls (1330,675) and (1370,660) .. (1378,620) .. controls (1383,585) and (1400,560) .. (1420,552) .. controls (1440,540) and (1455,530) .. (orggroup.south -| 1463.4,0) node[lb] at (1374.6,655) {is-a};
\draw[isa] (orgdiyl.north -| 1421.7,0) .. controls (1420,605) and (1425,585) .. (orgdiv.south -| 1435.9,0) node[lb] at (1432.9,593.9) {is-a};
\draw[isa] (carbonylg.north -| 1400.9,0) -- (orgdiyl.south -| 1419.7,0) node[lb] at (1420.4,655) {is-a};
\draw[isa] (organyl.north -| 1474.7,0) -- (orguni.south -| 1489.7,0) node[lb] at (1493.9,624.8) {is-a};
\draw[isa] (carboxyg.north -| 1447.7,0) -- (organyl.south -| 1466.7,0) node[lb] at (1470.4,686) {is-a};
\draw[isa] (orgoxo.north -| 1327.9,0) -- (orgmolecule.south -| 1331.4,0) node[lb] at (1337.9,593.9) {is-a};
\draw[hp] (orgoxo.north -| 1338.4,0) .. controls (1360,598) and (1375,575) .. (oxo.south -| 1382.2,0) node[lbb] at (1380.9,593.9) {has-part};
\draw[isa] (carbonylc.north -| 1322.2,0) -- (orgoxo.south -| 1326.7,0) node[lb] at (1332.7,686) {is-a};
\draw[hp] (carbonylc.north -| 1332.9,0) -- (carbonylg.south -| 1384.7,0) node[lbb] at (1381.4,716.8) {has-part};
\draw[isa] (carbonylc.north -| 1310.9,0) -- (orgoxy.south -| 1263.4,0) node[lb] at (1306.4,716.8) {is-a};
\draw[isa] (orgoxy.north -| 1244.6,0) -- (orgchalc.south -| 1203.4,0) node[lb] at (1238.4,655) {is-a};
\draw[isa] (orgoxy.north -| 1253.9,0) .. controls (1254,640) and (1250,600) .. (1240,570) .. controls (1230,545) and (1215,530) .. (ome.south -| 1208.4,0) node[lb] at (1253.4,593.9) {is-a};
\draw[isa] (orgchalc.north -| 1170.6,0) -- (heteroorg.south -| 1068,0) node[lb] at (1144.3,593.9) {is-a};
\draw[isa] (orgchalc.north -| 1238.4,0) .. controls (1270,605) and (1280,595) .. (1285,575) .. controls (1290,560) and (1300,555) .. (1306,551) .. controls (1320,540) and (1328,515) .. (chalcme.south -| 1328.4,0) node[lb] at (1325.4,539.2) {is-a};
\draw[isa] (coxoacid.north -| 1106.8,0) .. controls (1130,725) and (1150,700) .. (1176,697) -- (orgoxy.west |- 0,692.1) node[lb] at (1144.3,716.8) {is-a};
\draw[isa] (coxoacid.north -| 1098.8,0) -- (oxoacid.south -| 1091.3,0) node[lb] at (1104.3,716.8) {is-a};
\draw[isa] (oxoacid.north -| 1089.8,0) .. controls (1095,630) and (1098,600) .. (1101,587) .. controls (1105,575) and (1125,572) .. (hydroxides.west |- 0,571.3) node[lb] at (1106.6,624.8) {is-a};
\draw[isa] (carboxylic.west |- 0,794.4) .. controls (1120,790) and (1099.3,780) .. (coxoacid.south -| 1099.3,0) node[lb] at (1113.3,772) {is-a};
\draw[isa] (carboxylic.north -| 1189.6,0) .. controls (1187,770) and (1186,745) .. (orgacid.south -| 1185.4,0) node[lb] at (1195.4,772) {is-a};
\draw[isa] (carboxylic.north -| 1199.6,0) .. controls (1208,775) and (1210,765) .. (1215,762) .. controls (1230,752) and (1260,760) .. (carbonylc.south west) node[lb] at (1224.1,772) {is-a};
\draw[hp] (carboxylic.east |- 0,791) .. controls (1300,775) and (1390,750) .. (carboxyg.south -| 1427.2,0) node[lbb] at (1357.6,771.8) {has-part};
\draw[isa] (carbamic.north -| 1003,0) -- (orgn.south -| 927.3,0) node[lb] at (996.3,772) {is-a};
\draw[isa] (carbamic.north -| 1039.8,0) -- (coxoacid.south -| 1089.3,0) node[lb] at (1082.5,772) {is-a};
\draw[isa] (carbamic.north -| 1036.8,0) .. controls (1042,780) and (1041.3,760) .. (1041,744) .. controls (1040,720) and (1020,690) .. (onec.south -| 980.6,0) node[lb] at (1049,748) {is-a};
\draw[hp] (carbamic.north -| 1016.3,0) .. controls (1010,775) and (1005,765) .. (ecoli.south -| 1003.8,0) node[lbb] at (1027.3,771.8) {has-role};
\draw[isa] (ecoli.north west) -- (bactmet.south east) node[lb] at (940.6,716.8) {is-a};
\draw[isa] (orgn.north -| 931.8,0) .. controls (980,700) and (1010,660) .. (1020,630) .. controls (1030,600) and (1040,590) .. (heteroorg.south -| 1043,0) node[lb] at (1029.3,655) {is-a};
\draw[isa] (orgamino.north -| 837.3,0) .. controls (852,818) and (858,810) .. (862,795) .. controls (868,780) and (880,775) .. (885,770) .. controls (890,765) and (895,760) .. (orgn.south -| 899.3,0) node[lb] at (873.5,796.1) {is-a};
\draw[isa] (carboxamide.north -| 885,0) -- (885,820) .. controls (885,800) and (880,790) .. (882,775) .. controls (885,768) and (893,760) .. (orgn.south -| 899.3,0) node[lb] at (892.3,857.4) {is-a};
\draw[isa] (carboxamide.north -| 873.6,0) -- (primamide.south -| 854.3,0) node[lb] at (873.6,937.6) {is-a};
\draw[hp] (carboxamide.east |- 0,948.5) -- (carbamoyl.south -| 989.8,0) node[lbb] at (976.8,937.6) {has-part};
\draw[isa] (carboxamide.east |- 0,954.9) .. controls (1050,950) and (1220,942) .. (1255,935) .. controls (1272,930) and (1274,925) .. (1274,915) -- (1274,760) .. controls (1274,730) and (1268,710) .. (orgoxy.south -| 1259.6,0) node[lb] at (1280.9,833) {is-a};
\draw[isa] (primamide.north -| 828.8,0) -- (amide.south -| 747.1,0) node[lb] at (824.3,900.2) {is-a};
\draw[isa] (peptide.north -| 809.3,0) .. controls (800,978) and (794.8,970) .. (794.8,955) -- (orgamino.south -| 794.8,0) node[lb] at (801.8,918.8) {is-a};
\draw[isa] (peptide.north -| 836.6,0) -- (carboxamide.south -| 870.1,0) node[lb] at (864.3,964) {is-a};
\draw[hp] (peptide.east |- 0,991) .. controls (1000,980) and (1200,958) .. (1250,949) .. controls (1280,942) and (1295,935) .. (aares.south -| 1307,0) node[lbb] at (1265.2,955.6) {has-part};
\draw[isa] (oligo.east |- 0,1027.2) -- (peptide.west |- 0,996) node[lb] at (674.6,1011.3) {is-a};
\draw[isa] (dipeptide.east |- 0,1065) -- (oligo.west |- 0,1033) node[lb] at (297.5,1048.6) {is-a};
\draw[isa] (argGln.north -| 36.3,0) -- (dipeptide.south -| 51.3,0) node[lb] at (53.8,1085) {is-a};
\draw[isa] (carboacyl.north -| 1148,0) -- (acyl.south -| 1149.8,0) node[lb] at (1156,814.6) {is-a};
\draw[hp] (carboacyl.north -| 1158.3,0) -- (carboxylic.south -| 1180.9,0) node[lbb] at (1179.6,814.6) {n/a};
\draw[isa] (univcarb.north -| 1103,0) -- (carboacyl.south -| 1137.6,0) node[lb] at (1136.8,857.4) {is-a};
\draw[isa] (carbamoyl.north -| 1040.5,0) -- (univcarb.south -| 1076.3,0) node[lb] at (1069.3,900.2) {is-a};
\draw[hp] (carbamoyl.north -| 1023.3,0) -- (carbamic.south -| 1023.3,0) node[lbb] at (1028,857.4) {n/a};
\draw[isa] (aminoacid.north -| 1192.7,0) -- (carboxylic.south -| 1192.1,0) node[lb] at (1199.6,833) {is-a};
\draw[isa] (aminoacid.west |- 0,876) .. controls (1100,872) and (1020,870) .. (960,860) .. controls (920,852) and (870,845) .. (orgamino.east |- 0,840.3) node[lb] at (1009.3,857.4) {is-a};
\draw[hp] (aares.north -| 1290.4,0) -- (aminoacid.east |- 0,890) node[lbb] at (1271,900.2) {n/a};
\end{pgfonlayer}
\end{tikzpicture}
\end{document}
